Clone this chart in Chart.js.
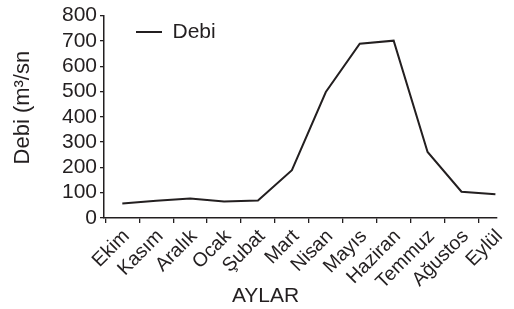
<!DOCTYPE html>
<html>
<head>
<meta charset="utf-8">
<script src="https://cdn.jsdelivr.net/npm/chart.js@4/dist/chart.umd.min.js"></script>
<style>
  html, body { margin: 0; padding: 0; background: #fff; }
  #wrap { width: 514px; height: 309px; }
</style>
</head>
<body>
<div id="wrap"><canvas id="chart"></canvas></div>
<script>
// Aylık debi grafiği (Ekim → Eylül, su yılı)
const AYLAR = ['Ekim', 'Kasım', 'Aralık', 'Ocak', 'Şubat', 'Mart',
  'Nisan', 'Mayıs', 'Haziran', 'Temmuz', 'Ağustos', 'Eylül'];
const DEBI = [57, 68, 77, 65, 69, 189, 498, 689, 701, 261, 104, 94];
const Y_TICKS = [0, 100, 200, 300, 400, 500, 600, 700, 800];

const INK = '#231f20';
const FONT = '"Liberation Sans", Arial, Helvetica, sans-serif';

Chart.defaults.color = INK;
Chart.defaults.font.family = FONT;

// legend sits inside the plot, a bit right of the y axis
const legendInside = {
  id: 'legendInside',
  afterLayout(chart) {
    const lg = chart.legend;
    if (!lg) return;
    lg.left = chart.chartArea.left + 22;
    lg.top = chart.chartArea.top - 4;
  },
};

new Chart(document.getElementById('chart'), {
  type: 'line',
  data: {
    datasets: [{
      label: 'Debi',
      data: DEBI.map((v, i) => ({ x: i, y: v })),
      borderColor: INK,
      backgroundColor: INK,
      borderWidth: 2,
      pointRadius: 0,
      tension: 0,
    }],
  },
  options: {
    responsive: true,
    maintainAspectRatio: false,
    animation: false,
    layout: { padding: { top: 14, right: 9, left: 0, bottom: 0 } },
    plugins: {
      legend: {
        position: 'chartArea',
        align: 'start',
        labels: { boxWidth: 26, boxHeight: 0, padding: 10, font: { size: 21 }, color: INK },
      },
      tooltip: { enabled: false },
    },
    scales: {
      x: {
        type: 'linear',
        min: -0.54,
        max: 11.05,
        afterBuildTicks: s => { s.ticks = AYLAR.map((_, i) => ({ value: i })); },
        afterFit: s => { s.height = 91; },
        ticks: {
          autoSkip: false,
          maxRotation: 45,
          minRotation: 45,
          padding: 2,
          labelOffset: 4,
          font: { size: 19.5 },
          color: INK,
          callback: v => AYLAR[v],
        },
        grid: { offset: true, drawOnChartArea: false, drawTicks: true, tickLength: 5, color: INK, lineWidth: 1.3 },
        border: { color: INK, width: 1.5 },
        title: { display: true, text: 'AYLAR' + '\u00a0'.repeat(12), font: { size: 21 }, color: INK, padding: { top: 0, bottom: 0 } },
      },
      y: {
        min: 0,
        max: 800,
        afterBuildTicks: s => { s.ticks = Y_TICKS.map(v => ({ value: v })); },
        afterFit: s => { s.width = 104; },
        ticks: { autoSkip: false, padding: 3, font: { size: 21 }, color: INK },
        grid: { drawOnChartArea: false, drawTicks: true, tickLength: 4, color: INK, lineWidth: 1.3 },
        border: { color: INK, width: 1.5 },
        title: { display: true, text: '\u00a0\u00a0\u00a0Debi (m³/sn', font: { size: 22 }, color: INK, padding: { top: 10, bottom: 0 } },
      },
    },
  },
  plugins: [legendInside],
});
</script>
</body>
</html>
